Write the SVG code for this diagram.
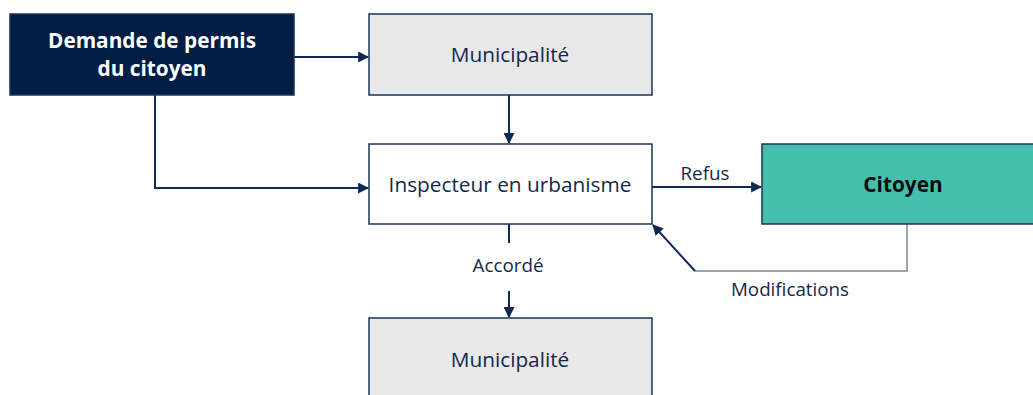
<svg xmlns="http://www.w3.org/2000/svg" width="1033" height="395" viewBox="0 0 1033 395">
<style>
.box{stroke:#1B3358;stroke-width:1.5}
.t{font-family:"Open Sans","Noto Sans",sans-serif;font-size:20.8px;fill:#13294B;text-anchor:middle}
.b{font-weight:bold}
.lbl{font-family:"Open Sans","Noto Sans",sans-serif;font-size:18.8px;fill:#13294B;text-anchor:middle}
.c{fill:none;stroke:#0F2A52;stroke-width:2}
.g{fill:none;stroke:#7A8699;stroke-width:1.5}
</style>
<defs>
<marker id="ah" viewBox="0 0 10 10" refX="9" refY="5" markerWidth="5.5" markerHeight="5.5" orient="auto" markerUnits="strokeWidth">
<path d="M0,0 L10,5 L0,10 z" fill="#0F2A52"/>
</marker>
</defs>
<rect width="1033" height="395" fill="#FFFFFF"/>
<g id="connectors">
<path class="c" d="M294,57 H368" marker-end="url(#ah)"/>
<path class="c" d="M509,95 V143" marker-end="url(#ah)"/>
<path class="c" d="M155,95 V188 H368" marker-end="url(#ah)"/>
<path class="c" d="M652,187 H761" marker-end="url(#ah)"/>
<path class="c" d="M509,224 V243"/>
<path class="c" d="M509,291 V317" marker-end="url(#ah)"/>
<path class="g" d="M907,224 V271 H695"/>
<path class="c" d="M695,271 L653,225" marker-end="url(#ah)"/>
<text class="lbl" x="705" y="180">Refus</text>
<text class="lbl" x="508" y="272">Accordé</text>
<text class="lbl" x="790" y="296">Modifications</text>
</g>
<g id="demande">
<rect class="box" x="10" y="14" width="284" height="81" fill="#001E45"/>
<text class="t b" x="152" y="48" style="fill:#FFFFFF">Demande de permis</text>
<text class="t b" x="152" y="76" style="fill:#FFFFFF">du citoyen</text>
</g>
<g id="municipalite1">
<rect class="box" x="369" y="14" width="283" height="81" fill="#E8E8E8"/>
<text class="t" x="510" y="62">Municipalité</text>
</g>
<g id="inspecteur">
<rect class="box" x="369" y="144" width="283" height="80" fill="#FFFFFF"/>
<text class="t" x="510" y="192">Inspecteur en urbanisme</text>
</g>
<g id="citoyen">
<rect class="box" x="762" y="144" width="275" height="80" fill="#44BFAE"/>
<text class="t b" x="903" y="192" style="fill:#0A0A0A">Citoyen</text>
</g>
<g id="municipalite2">
<rect class="box" x="369" y="318" width="283" height="82" fill="#E8E8E8"/>
<text class="t" x="510" y="367">Municipalité</text>
</g>
</svg>
